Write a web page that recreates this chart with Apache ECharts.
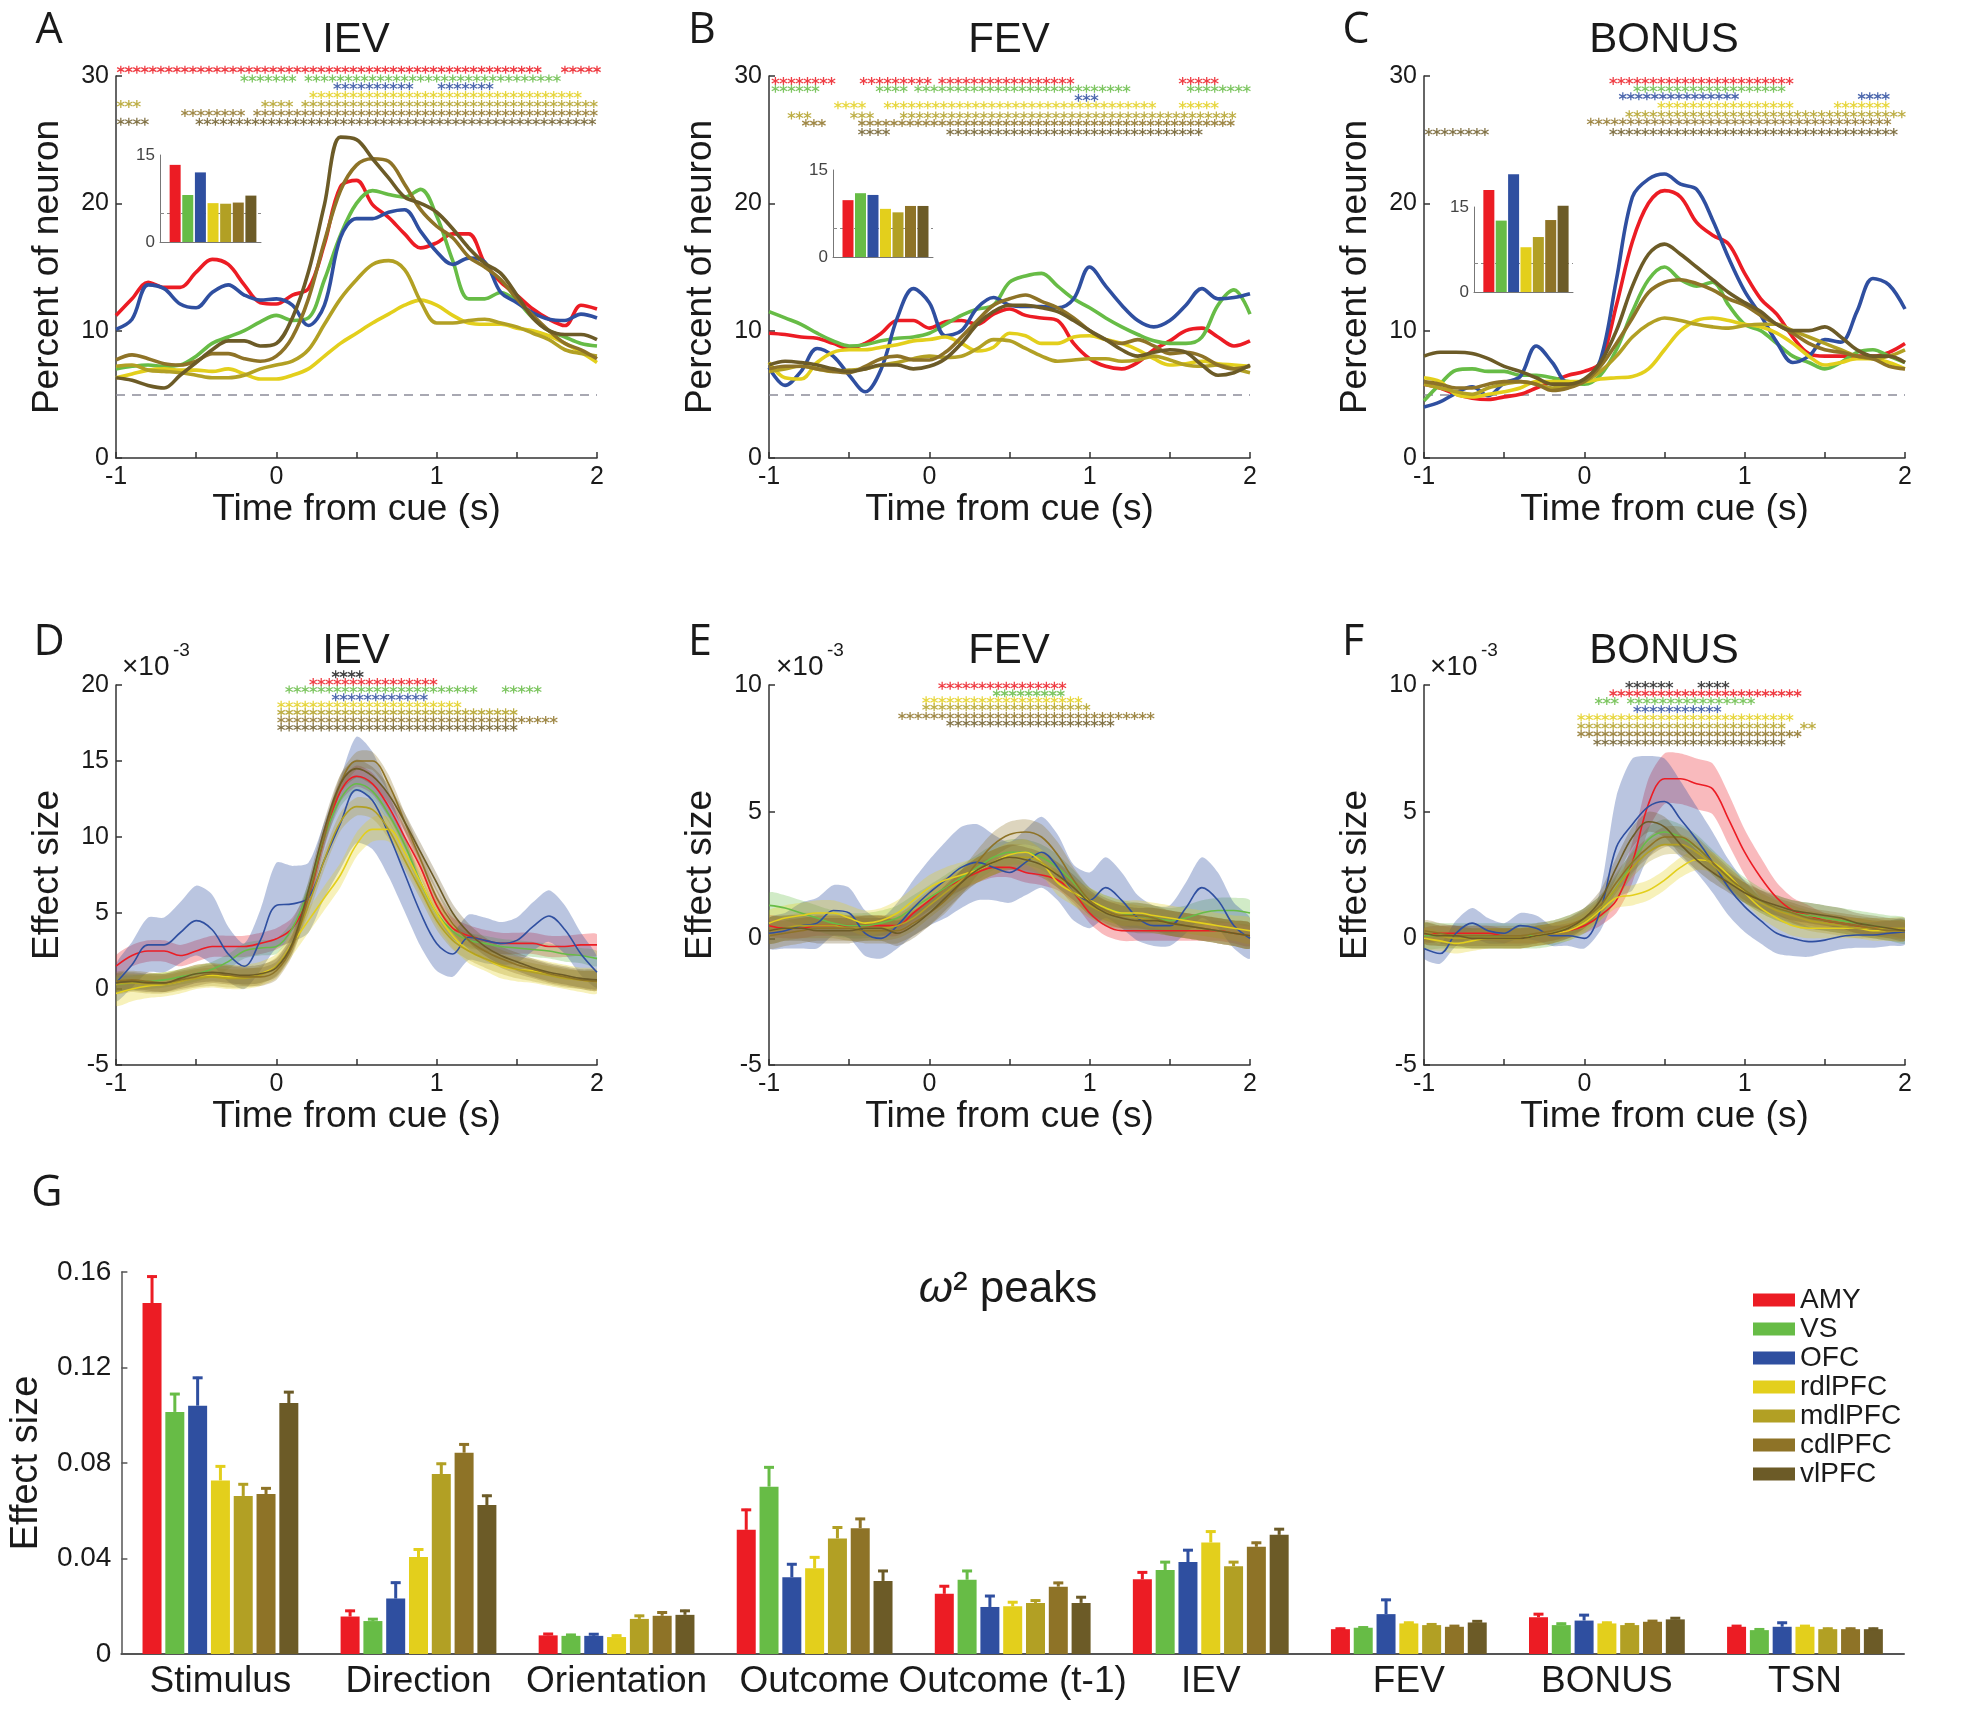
<!DOCTYPE html>
<html><head><meta charset="utf-8">
<script src="https://cdn.jsdelivr.net/npm/echarts/dist/echarts.min.js"></script>
<style>html,body{margin:0;padding:0;background:#fff}#c{width:1969px;height:1710px}</style>
</head><body><div id="c"></div>
<script>
// ---------------- DATA ----------------
const regions = ['AMY','VS','OFC','rdlPFC','mdlPFC','cdlPFC','vlPFC'];
const colors = ['#EC1C24','#67BC46','#2F4FA0','#E3CF1C','#B2A024','#8E7327','#6C5B27'];
const time = [-1,-0.9,-0.8,-0.7,-0.6,-0.5,-0.4,-0.3,-0.2,-0.1,0,0.1,0.2,0.3,0.4,0.5,0.6,0.7,0.8,0.9,1,1.1,1.2,1.3,1.4,1.5,1.6,1.7,1.8,1.9,2];

// Panel A: IEV, percent of neurons
const A_AMY = [11.2,12.5,13.8,13.4,13.4,14.6,15.6,15.2,13.6,12.2, 12.1,12.8,13.3,16.8,21.3,21.8,19.9,18.9,17.6,16.5, 16.9,17.6,17.6,15.3,13.8,12.8,11.7,10.9,10.4,12.0, 11.7];
const A_VS  = [7.0,7.2,7.3,7.2,7.3,8.0,9.0,9.5,10.0,10.7, 11.2,10.8,11.0,14.0,17.5,20.0,21.0,20.7,20.5,21.1, 19.0,15.5,12.5,12.5,13.0,12.3,11.0,10.0,9.5,9.0, 8.8];
const A_OFC = [10.1,10.9,13.6,13.3,12.1,11.8,13.0,13.6,12.8,12.4, 12.5,12.0,10.4,12.0,17.3,18.8,18.8,19.3,19.5,17.8, 16.2,15.2,15.7,15.4,13.0,12.2,11.4,10.9,10.8,11.3, 11.0];
const A_rdl = [6.3,6.6,6.9,7.0,6.9,6.9,6.8,7.0,6.6,6.2, 6.2,6.5,7.0,8.0,9.0,9.8,10.6,11.3,12.0,12.4, 12.0,11.2,10.6,10.5,10.5,10.2,10.0,9.6,9.0,8.3, 7.5];
const A_mdl = [7.2,7.3,6.9,6.8,6.7,6.5,6.3,6.3,6.5,7.0, 7.3,7.6,8.5,10.5,12.5,14.0,15.2,15.5,14.8,12.3, 10.6,10.6,10.8,10.9,10.6,10.3,9.8,9.3,8.5,8.2, 8.0];
const A_cdl = [7.7,8.1,7.8,7.4,7.3,7.6,8.2,8.2,7.8,7.6, 8.0,9.5,12.5,17.0,21.0,23.0,23.5,23.3,21.5,19.5, 18.2,17.3,15.8,15.0,14.0,12.5,11.2,10.0,9.0,8.5, 7.8];
const A_vl  = [6.3,6.1,5.7,5.5,6.5,7.5,8.5,9.2,9.2,8.8, 9.0,11.0,14.6,19.9,25.2,25.0,23.5,22.0,20.5,20.0, 19.3,18.0,16.5,15.3,14.5,12.8,11.0,10.0,9.7,9.7, 9.3];
// Panel B: FEV
const B_AMY = [9.8,9.7,9.5,9.4,9.0,8.6,9.0,9.8,10.8,10.8, 10.2,10.7,10.8,10.5,11.3,11.7,11.2,11.0,10.8,9.0, 7.8,7.2,7.0,7.5,8.5,9.2,10.0,10.2,9.5,8.8, 9.2];
const B_VS  = [11.5,11.0,10.5,9.8,9.2,8.8,8.9,9.2,9.4,9.5, 9.8,10.5,11.2,11.7,12.0,13.8,14.3,14.5,13.5,12.5, 11.8,11.0,10.3,9.7,9.2,9.0,9.0,9.5,12.0,13.2, 11.3];
const B_OFC = [7.1,5.7,6.8,8.6,8.0,6.5,5.2,7.0,11.0,13.3, 12.2,9.6,10.0,11.8,12.6,12.0,11.9,11.9,11.8,12.5, 15.0,13.5,12.0,10.8,10.3,10.8,12.0,13.3,12.5,12.6, 12.9];
const B_rdl = [7.5,6.3,6.2,7.5,8.3,8.5,8.5,8.7,8.9,9.2, 9.3,9.5,9.0,8.4,8.7,9.8,9.6,9.0,9.0,9.5, 9.6,9.3,9.0,8.5,7.8,7.3,7.4,7.6,7.4,7.3, 7.2];
const B_mdl = [6.8,7.0,7.2,7.0,6.8,6.9,7.0,7.3,7.5,7.8, 8.0,7.9,8.0,8.6,9.3,9.2,8.6,8.0,7.6,7.7, 7.8,7.8,7.6,7.7,8.0,7.7,7.3,7.2,7.3,7.0, 6.7];
const B_cdl = [7.0,7.2,7.2,7.0,6.8,6.7,7.2,7.8,8.0,7.7, 7.7,8.3,9.5,10.8,12.0,12.5,12.8,12.3,11.8,11.0, 10.0,9.3,9.0,9.3,8.8,8.2,8.3,8.0,7.3,7.0, 7.2];
const B_vl  = [7.3,7.6,7.5,7.3,7.0,6.8,7.0,7.3,7.3,7.0, 7.2,7.8,9.0,10.5,11.5,12.0,12.0,11.8,11.5,10.8, 10.0,9.3,8.5,8.0,8.3,8.5,8.3,7.3,6.5,6.7, 7.3];
// Panel C: BONUS
const C_AMY = [5.8,5.5,5.0,4.7,4.6,4.8,5.0,5.5,6.0,6.5, 6.8,7.5,12.0,17.0,20.0,21.0,20.5,18.5,17.5,16.8, 14.5,12.5,11.3,9.5,8.2,8.0,8.0,8.0,8.0,8.3, 9.0];
const C_VS  = [4.5,5.8,6.9,7.0,6.8,6.8,6.5,6.5,6.3,6.0, 5.8,6.5,8.5,11.5,14.0,15.0,14.0,13.5,13.8,12.0, 10.5,10.0,9.0,8.0,7.5,7.0,7.5,8.3,8.5,8.0, 7.5];
const C_OFC = [4.0,4.4,5.1,5.6,4.9,5.9,6.4,8.8,7.5,5.9, 6.1,7.7,14.0,20.5,21.9,22.3,21.5,21.1,18.7,15.7, 13.1,11.2,9.1,7.5,8.0,9.3,9.1,11.5,14.1,13.6, 11.7];
const C_rdl = [6.3,6.0,5.0,4.8,5.0,5.2,5.5,6.0,6.0,6.0, 6.0,6.2,6.3,6.4,7.0,8.5,10.0,10.8,11.0,10.8, 10.5,10.3,9.8,9.0,8.0,7.3,7.5,7.8,7.8,7.5, 7.0];
const C_mdl = [5.8,5.5,5.2,5.0,5.5,5.8,6.0,5.8,5.5,5.7, 6.0,6.8,8.0,9.5,10.5,11.0,10.8,10.5,10.3,10.2, 10.4,10.5,10.5,10.0,9.5,9.0,8.5,8.0,7.8,8.0, 8.5];
const C_cdl = [6.0,5.8,5.5,5.5,5.8,6.0,6.0,5.8,5.3,5.5, 6.0,7.2,9.0,11.0,13.0,13.8,14.0,13.7,13.2,12.5, 12.0,11.2,10.5,9.8,9.0,8.5,8.3,8.0,7.8,7.2, 7.0];
const C_vl  = [8.0,8.3,8.3,8.2,7.8,7.2,6.8,6.3,5.8,5.8, 6.2,7.5,10.0,13.5,16.0,16.8,16.0,15.0,14.0,13.0, 12.2,11.5,10.5,10.0,10.0,10.3,9.5,8.5,8.0,8.0, 7.5];

// Insets: percent of neurons per region
const insetA = [13.3, 8.1, 12.0, 6.7, 6.6, 6.8, 8.0];
const insetB = [9.8, 11.0, 10.7, 8.3, 7.7, 8.8, 8.8];
const insetC = [18.0, 12.6, 20.8, 7.9, 9.7, 12.7, 15.2];

// Panel D: IEV effect size (x1e-3)
const D_AMY = [1.5,2.2,2.5,2.5,2.2,2.5,2.8,2.8,2.8,3.0, 3.3,4.0,6.0,10.0,13.0,14.0,13.5,12.0,10.0,8.0, 5.5,4.0,3.5,3.2,3.0,3.0,3.0,2.8,2.8,2.9, 2.9];
const D_VS  = [0.3,0.4,0.5,0.6,0.8,1.0,1.3,1.8,2.5,2.7, 2.8,4.0,6.5,10.0,12.5,13.5,13.0,11.5,9.5,7.0, 5.0,3.8,3.2,3.0,2.8,2.7,2.6,2.5,2.3,2.2, 2.0];
const D_OFC = [0.4,1.6,2.9,2.9,3.7,4.5,3.9,2.3,1.5,3.2, 5.5,5.6,6.0,8.5,10.9,13.1,12.4,10.2,7.6,5.0, 3.0,2.3,3.4,3.2,3.0,3.2,4.1,4.8,3.9,2.3, 1.1];
const D_rdl = [-0.3,0.0,0.2,0.3,0.5,0.8,0.9,0.8,0.8,1.0, 1.5,3.0,4.5,6.0,7.5,9.5,10.5,10.5,9.0,7.0, 5.0,3.5,2.5,2.0,1.5,1.3,1.2,1.0,0.8,0.6, 0.5];
const D_mdl = [0.3,0.4,0.3,0.3,0.5,0.7,0.8,0.7,0.7,0.9, 1.5,3.0,5.5,8.5,11.0,12.0,11.8,10.5,8.5,6.5, 4.5,3.2,2.5,2.0,1.6,1.3,1.1,0.9,0.7,0.6, 0.5];
const D_cdl = [0.5,0.6,0.5,0.4,0.6,0.8,1.0,0.9,0.8,0.8, 1.2,2.8,6.0,10.0,13.5,15.0,15.0,13.5,11.0,8.5, 6.0,4.3,3.2,2.5,2.0,1.6,1.3,1.0,0.8,0.6, 0.5];
const D_vl  = [0.4,0.5,0.4,0.4,0.7,1.0,1.1,1.0,0.9,1.0, 1.4,3.0,6.5,10.5,13.5,14.5,14.0,12.8,11.0,9.0, 7.0,5.0,3.7,2.8,2.2,1.8,1.4,1.1,0.9,0.7, 0.6];
const D_OFC_sem = [1.2,1.5,1.8,1.8,2.0,2.3,2.3,1.8,1.5,2.0, 2.8,2.5,2.3,2.5,3.0,3.5,3.2,2.8,2.5,2.2, 1.8,1.5,1.5,1.5,1.4,1.5,1.6,1.7,1.6,1.4, 1.0];
const D_sem = [0.7, 0.5, D_OFC_sem, 0.8, 0.6, 0.6, 0.6];
// Panel E: FEV effect size
const E_AMY = [0.5,0.4,0.4,0.5,0.5,0.5,0.5,0.5,0.5,1.0, 1.5,2.0,2.3,2.6,2.8,2.8,2.6,2.5,2.3,1.8, 1.0,0.5,0.3,0.3,0.3,0.3,0.3,0.3,0.3,0.2, 0.1];
const E_VS  = [1.3,1.2,1.0,0.8,0.6,0.5,0.5,0.6,0.8,1.2, 1.6,2.0,2.4,2.8,3.2,3.4,3.4,3.2,2.8,2.2, 1.5,1.2,1.0,0.9,0.8,0.7,0.8,1.0,1.1,1.1, 1.0];
const E_OFC = [0.2,0.3,0.5,0.6,1.1,1.0,0.2,0.0,0.5,1.2, 1.8,2.3,2.8,3.0,2.8,2.6,3.0,3.4,2.8,1.8, 1.5,2.0,1.5,0.8,0.5,0.5,1.2,2.0,1.5,0.5, 0.0];
const E_rdl = [0.6,0.8,0.9,1.0,1.0,0.8,0.6,0.7,1.0,1.5, 2.0,2.3,2.5,2.7,3.0,3.3,3.4,3.0,2.2,1.8, 1.5,1.2,1.0,1.0,0.9,0.8,0.7,0.6,0.5,0.4, 0.3];
const E_mdl = [0.3,0.4,0.5,0.5,0.5,0.4,0.4,0.4,0.5,0.8, 1.3,1.8,2.3,2.7,3.0,3.2,3.2,3.0,2.5,1.8, 1.3,1.0,0.9,0.8,0.7,0.6,0.5,0.4,0.3,0.2, 0.1];
const E_cdl = [0.1,0.2,0.3,0.4,0.4,0.4,0.3,0.3,0.3,0.6, 1.0,1.5,2.2,3.0,3.7,4.1,4.2,4.0,3.3,2.3, 1.5,1.1,0.9,0.9,0.8,0.6,0.5,0.4,0.3,0.2, 0.1];
const E_vl  = [0.3,0.4,0.4,0.3,0.3,0.3,0.4,0.4,0.2,0.5, 1.0,1.6,2.2,2.7,3.0,3.2,3.1,2.9,2.5,2.0, 1.4,1.0,0.8,0.7,0.7,0.6,0.5,0.4,0.3,0.2, 0.1];
const E_OFC_sem = [0.6,0.7,0.9,1.0,1.0,1.0,0.9,0.8,0.9,1.1, 1.3,1.5,1.6,1.5,1.3,1.2,1.3,1.4,1.3,1.1, 1.1,1.2,1.1,0.9,0.8,0.8,1.0,1.2,1.1,0.9, 0.8];
const E_sem = [0.4, 0.5, E_OFC_sem, 0.5, 0.5, 0.5, 0.5];
// Panel F: BONUS effect size
const F_AMY = [0.1,0.2,0.2,0.2,0.2,0.1,0.1,0.1,0.2,0.3, 0.5,0.9,1.5,3.0,5.3,6.3,6.3,6.1,5.9,4.7, 3.4,2.4,1.6,1.1,0.9,0.7,0.6,0.5,0.4,0.4, 0.3];
const F_VS  = [0.1,0.1,0.1,0.1,0.1,0.1,0.1,0.1,0.2,0.4, 0.7,1.2,2.0,3.0,3.9,4.2,4.0,3.6,3.0,2.4, 1.9,1.5,1.2,1.0,0.9,0.8,0.7,0.6,0.5,0.4, 0.3];
const F_OFC = [-0.4,-0.6,0.2,0.6,0.3,0.2,0.5,0.4,0.1,0.1, 0.0,1.1,3.6,4.5,5.2,5.4,4.7,3.9,3.0,2.0, 1.25,0.7,0.2,0.0,-0.13,-0.07,0.07,0.13,0.13,0.2, 0.26];
const F_rdl = [0.0,-0.1,-0.2,-0.1,0.0,0.0,0.0,0.1,0.2,0.3, 0.6,1.1,1.6,1.7,1.9,2.3,2.8,3.1,3.0,2.5, 1.8,1.2,0.8,0.5,0.4,0.4,0.4,0.4,0.3,0.3, 0.3];
const F_mdl = [0.2,0.1,0.0,0.0,0.0,0.0,0.0,0.1,0.2,0.4, 0.7,1.2,2.0,2.8,3.4,3.7,3.7,3.4,2.9,2.3, 1.8,1.4,1.1,0.9,0.7,0.6,0.5,0.4,0.4,0.4, 0.4];
const F_cdl = [0.3,0.2,0.1,0.1,0.1,0.1,0.1,0.2,0.3,0.5, 0.8,1.3,2.2,3.0,3.6,4.0,4.0,3.6,3.0,2.4, 1.9,1.5,1.2,1.0,0.8,0.7,0.6,0.5,0.4,0.3, 0.3];
const F_vl  = [0.2,0.1,0.1,0.0,0.0,0.0,0.0,0.1,0.2,0.4, 0.8,1.5,2.8,4.0,4.6,4.4,3.7,3.1,2.6,2.2, 1.8,1.5,1.3,1.1,1.0,0.9,0.8,0.6,0.5,0.4, 0.3];
const F_OFC_sem = [0.4,0.4,0.5,0.6,0.5,0.4,0.5,0.5,0.4,0.4, 0.4,0.8,2.0,2.6,2.0,1.7,1.5,1.3,1.2,1.1, 1.0,0.9,0.8,0.7,0.6,0.5,0.5,0.5,0.5,0.5, 0.5];
const F_AMY_sem = [0.3,0.3,0.3,0.3,0.3,0.3,0.3,0.3,0.3,0.3, 0.3,0.4,0.5,0.8,1.0,1.0,1.0,1.0,1.0,1.0, 0.9,0.8,0.6,0.5,0.4,0.3,0.3,0.3,0.3,0.3, 0.3];
const F_sem = [F_AMY_sem, 0.5, F_OFC_sem, 0.4, 0.4, 0.4, 0.4];

// Significance stars: intervals (s) per row; index 0 = black (difference) row, then regions
const STAR_STEP = 0.05;
const starsA = [[], [[-0.97,1.65],[1.8,2.0]], [[-0.2,0.1],[0.2,1.75]], [[0.38,0.87],[1.03,1.36]], [[0.23,1.91]], [[-0.97,-0.83],[-0.07,0.12],[0.18,2.0]], [[-0.57,-0.18],[-0.12,2.0]], [[-0.97,-0.78],[-0.48,2.0]]];
const starsB = [[], [[-0.96,-0.58],[-0.41,0.02],[0.08,0.92],[1.58,1.82]], [[-0.96,-0.68],[-0.31,-0.13],[-0.07,1.26],[1.63,2.0]], [[0.93,1.07]], [[-0.57,-0.39],[-0.26,1.41],[1.58,1.82]], [[-0.86,-0.73],[-0.47,-0.34],[-0.16,1.91]], [[-0.77,-0.63],[-0.42,1.88]], [[-0.42,-0.24],[0.13,1.7]]];
const starsC = [[], [[0.18,1.31]], [[0.33,1.26]], [[0.24,0.95],[1.73,1.91]], [[0.48,1.31],[1.58,1.91]], [[0.28,2.0]], [[0.04,1.91]], [[-0.97,-0.59],[0.18,1.97]]];
const starsD = [[[0.37,0.52]], [[0.23,0.98]], [[0.08,1.27],[1.43,1.67]], [[0.37,0.92]], [[0.03,1.17]], [[0.03,1.52]], [[0.03,1.77]], [[0.03,1.52]]];
const starsE = [[], [[0.08,0.87]], [[0.42,0.82]], [], [[-0.02,0.97]], [[-0.02,1.01]], [[-0.17,1.42]], [[0.13,1.17]]];
const starsF = [[[0.28,0.57],[0.73,0.91]], [[0.18,1.37]], [[0.09,0.21],[0.29,1.06]], [[0.33,0.86]], [[-0.02,1.31]], [[-0.02,1.26],[1.37,1.46]], [[-0.02,1.37]], [[0.08,1.26]]];
const starRowA = [31.1, 30.5, 29.8, 29.2, 28.5, 27.8, 27.1, 26.4];
const starRowB = [30.2, 29.6, 29.0, 28.3, 27.7, 26.9, 26.3, 25.6];
const starRowC = [30.2, 29.6, 29.0, 28.4, 27.7, 27.0, 26.4, 25.6];
const starRowD = [20.7, 20.2, 19.7, 19.2, 18.7, 18.2, 17.7, 17.2];
const starRowE = [10.3, 9.97, 9.67, 9.67, 9.4, 9.12, 8.78, 8.49];
const starRowF = [10.0, 9.67, 9.37, 9.04, 8.72, 8.38, 8.07, 7.74];

// Panel G: omega^2 peaks
const gCats = ['Stimulus','Direction','Orientation','Outcome','Outcome (t-1)','IEV','FEV','BONUS','TSN'];
const G_AMY = [0.147, 0.0157, 0.0078, 0.052, 0.0252, 0.0313, 0.0104, 0.0154, 0.0114];
const G_VS  = [0.1014, 0.0138, 0.0076, 0.0701, 0.0311, 0.0352, 0.011, 0.0121, 0.010];
const G_OFC = [0.104, 0.0232, 0.0076, 0.0321, 0.0197, 0.0385, 0.0167, 0.014, 0.0114];
const G_rdl = [0.0727, 0.0406, 0.0071, 0.0359, 0.020, 0.0467, 0.0128, 0.0128, 0.0114];
const G_mdl = [0.0662, 0.0754, 0.0147, 0.0484, 0.0214, 0.0368, 0.0121, 0.0121, 0.0104];
const G_cdl = [0.067, 0.0843, 0.016, 0.0527, 0.0282, 0.0449, 0.0114, 0.0135, 0.0104];
const G_vl  = [0.1051, 0.0624, 0.0164, 0.0306, 0.0214, 0.0499, 0.0132, 0.0145, 0.0104];
const G_AMY_err = [0.0115, 0.0028, 0.001, 0.0088, 0.0036, 0.0033, 0.0006, 0.0017, 0.0007];
const G_VS_err  = [0.0079, 0.0012, 0.0008, 0.0085, 0.0041, 0.0037, 0.0005, 0.001, 0.0007];
const G_OFC_err = [0.0121, 0.0071, 0.0011, 0.0059, 0.005, 0.0054, 0.0064, 0.0027, 0.0021];
const G_rdl_err = [0.0063, 0.0036, 0.001, 0.005, 0.0021, 0.005, 0.0007, 0.0007, 0.0007];
const G_mdl_err = [0.0053, 0.0047, 0.0017, 0.005, 0.0014, 0.0021, 0.0007, 0.0007, 0.0006];
const G_cdl_err = [0.0028, 0.0039, 0.0018, 0.0043, 0.002, 0.0021, 0.0007, 0.0007, 0.0006];
const G_vl_err  = [0.005, 0.0043, 0.0021, 0.0046, 0.0028, 0.0028, 0.0009, 0.0009, 0.0006];

// ---------------- BUILD ----------------
const FONT = '"Liberation Sans", Arial, Helvetica, sans-serif';
const TXT = '#1a1a1a';
const A_lines = [A_AMY,A_VS,A_OFC,A_rdl,A_mdl,A_cdl,A_vl];
const B_lines = [B_AMY,B_VS,B_OFC,B_rdl,B_mdl,B_cdl,B_vl];
const C_lines = [C_AMY,C_VS,C_OFC,C_rdl,C_mdl,C_cdl,C_vl];
const D_lines = [D_AMY,D_VS,D_OFC,D_rdl,D_mdl,D_cdl,D_vl];
const E_lines = [E_AMY,E_VS,E_OFC,E_rdl,E_mdl,E_cdl,E_vl];
const F_lines = [F_AMY,F_VS,F_OFC,F_rdl,F_mdl,F_cdl,F_vl];
const G_vals = [G_AMY,G_VS,G_OFC,G_rdl,G_mdl,G_cdl,G_vl];
const G_errs = [G_AMY_err,G_VS_err,G_OFC_err,G_rdl_err,G_mdl_err,G_cdl_err,G_vl_err];

function pairs(arr){ return time.map((t,i)=>[t, arr[i]]); }
function semAt(s,i){ return Array.isArray(s) ? s[i] : s; }
function rgba(hex,a){ const n=parseInt(hex.slice(1),16); return 'rgba('+((n>>16)&255)+','+((n>>8)&255)+','+(n&255)+','+a+')'; }
function starPts(ranges,y){ const p=[]; ranges.forEach(([s,e])=>{ for(let t=s;t<=e+1e-6;t+=STAR_STEP) p.push([+t.toFixed(3),y]); }); return p; }
const STAR = 'path://M-1.5,-10L1.5,-10L1.5,10L-1.5,10ZM7.91,-6.3L9.41,-3.7L-7.91,6.3L-9.41,3.7ZM9.41,3.7L7.91,6.3L-9.41,-3.7L-7.91,-6.3Z';

const grid = [
  {left:116, top:76, width:481, height:382},
  {left:769, top:76, width:481, height:382},
  {left:1424, top:76, width:481, height:382},
  {left:160, top:155, width:101, height:87},
  {left:833, top:170, width:100, height:87},
  {left:1474, top:207, width:99, height:85},
  {left:116, top:685, width:481, height:380},
  {left:769, top:685, width:481, height:380},
  {left:1424, top:685, width:481, height:380},
  {left:115, top:1272, width:1789, height:382}
];

const axLine = {show:true, onZero:false, lineStyle:{color:'#333', width:1.5}};
const axTick = {show:true, inside:true, length:6, lineStyle:{color:'#333', width:1.5}};
function timeX(gi){ return {gridIndex:gi, type:'value', min:-1, max:2, interval:0.5,
  name:'Time from cue (s)', nameLocation:'middle', nameGap:33, nameTextStyle:{fontSize:37, color:TXT, fontFamily:FONT},
  axisLine:axLine, axisTick:axTick, splitLine:{show:false},
  axisLabel:{fontSize:25, color:TXT, fontFamily:FONT, margin:7, formatter:v=>Math.abs(v-Math.round(v))<1e-6?String(Math.round(v)):''}}; }
function valY(gi,min,max,itv,name){ return {gridIndex:gi, type:'value', min, max, interval:itv,
  name, nameLocation:'middle', nameGap:50, nameTextStyle:{fontSize:37, color:TXT, fontFamily:FONT},
  axisLine:axLine, axisTick:axTick, splitLine:{show:false},
  axisLabel:{fontSize:25, color:TXT, fontFamily:FONT, margin:7}}; }
function insetX(gi){ return {gridIndex:gi, type:'value', min:-0.2, max:7.8, axisLine:{show:true,onZero:false,lineStyle:{color:'#777',width:1}}, axisTick:{show:false}, axisLabel:{show:false}, splitLine:{show:false}}; }
function insetY(gi){ return {gridIndex:gi, type:'value', min:0, max:15, interval:15, axisLine:{show:true,onZero:false,lineStyle:{color:'#777',width:1}}, axisTick:{show:false}, axisLabel:{fontSize:17,color:'#444',fontFamily:FONT,margin:5}, splitLine:{show:false}}; }

const xAxis = [timeX(0),timeX(1),timeX(2),insetX(3),insetX(4),insetX(5),timeX(6),timeX(7),timeX(8),
  {gridIndex:9, type:'category', data:gCats, axisLine:{show:true,onZero:false,lineStyle:{color:'#555',width:2}},
   axisTick:{show:true,inside:true,alignWithLabel:true,length:5,lineStyle:{color:'#555',width:1.5}},
   axisLabel:{interval:0, fontSize:37, color:TXT, fontFamily:FONT, margin:9}, splitLine:{show:false}}];
const yAxis = [valY(0,0,30,10,'Percent of neuron'),valY(1,0,30,10,'Percent of neuron'),valY(2,0,30,10,'Percent of neuron'),
  insetY(3),insetY(4),insetY(5),
  valY(6,-5,20,5,'Effect size'),valY(7,-5,10,5,'Effect size'),valY(8,-5,10,5,'Effect size'),
  {gridIndex:9, type:'value', min:0, max:0.16, interval:0.04, name:'Effect size', nameLocation:'middle', nameGap:66,
   nameTextStyle:{fontSize:38,color:TXT,fontFamily:FONT}, axisLine:{show:true,onZero:false,lineStyle:{color:'#555',width:1.5}},
   axisTick:{show:true,inside:true,length:6,lineStyle:{color:'#555',width:1.5}}, splitLine:{show:false},
   axisLabel:{fontSize:28,color:TXT,fontFamily:FONT,margin:10,formatter:v=>v===0?'0':v.toFixed(2)}}];

const series = [];
// top panels: lines + dashed chance level
[[A_lines,0],[B_lines,1],[C_lines,2]].forEach(([lines,gi])=>{
  lines.forEach((arr,k)=>{
    const s = {type:'line', name:'L'+gi+'-'+regions[k], xAxisIndex:gi, yAxisIndex:gi, data:pairs(arr), smooth:0.35,
      symbol:'none', silent:true, z:3, lineStyle:{color:colors[k], width:3.6}};
    if(k===0) s.markLine = {silent:true, symbol:'none', label:{show:false}, lineStyle:{color:'#8c8c99', type:[9,7], width:1.6}, data:[{yAxis:5}], z:2};
    series.push(s);
  });
});
// insets
[[insetA,3],[insetB,4],[insetC,5]].forEach(([vals,gi])=>{
  series.push({type:'bar', name:'I'+gi, xAxisIndex:gi, yAxisIndex:gi, barWidth:11, clip:false, silent:true, z:5,
    data:vals.map((v,i)=>({value:[i+1,v], itemStyle:{color:colors[i]}})),
    markLine:{silent:true, symbol:'none', label:{show:false}, lineStyle:{color:'#888', type:[4,3], width:1}, data:[{yAxis:5}]}});
});
// middle panels: SEM bands (custom polygons) + mean lines
function bandSeries(gi, arr, sem, color, alpha){
  const up = time.map((t,i)=>[t, arr[i]+semAt(sem,i)]);
  const lo = time.map((t,i)=>[t, arr[i]-semAt(sem,i)]);
  return {type:'custom', name:'band'+gi, xAxisIndex:gi, yAxisIndex:gi, silent:true, z:2, clip:true,
    data: time.map((t,i)=>[t, lo[i][1], up[i][1]]), encode:{x:0, y:[1,2]},
    renderItem:(params, api)=>{
      if(params.dataIndex!==0) return null;
      const pts = up.map(p=>api.coord(p)).concat(lo.slice().reverse().map(p=>api.coord(p)));
      return {type:'polygon', shape:{points:pts, smooth:0.25}, style:{fill:rgba(color,alpha), stroke:null}};
    }};
}
[[D_lines,D_sem,6],[E_lines,E_sem,7],[F_lines,F_sem,8]].forEach(([lines,sems,gi])=>{
  lines.forEach((arr,k)=>series.push(bandSeries(gi, arr, sems[k], colors[k], k===2?0.33:0.3)));
  lines.forEach((arr,k)=>{
    series.push({type:'line', name:'M'+gi+'-'+regions[k], xAxisIndex:gi, yAxisIndex:gi, data:pairs(arr), smooth:0.35,
      symbol:'none', silent:true, z:3, lineStyle:{color:colors[k], width:1.6}});
  });
});
// stars
[[starsA,starRowA,0],[starsB,starRowB,1],[starsC,starRowC,2],[starsD,starRowD,6],[starsE,starRowE,7],[starsF,starRowF,8]].forEach(([rows,ys,gi])=>{
  rows.forEach((ranges,r)=>{
    if(!ranges.length) return;
    series.push({type:'scatter', name:'st'+gi+'-'+r, xAxisIndex:gi, yAxisIndex:gi, clip:false, silent:true, z:6,
      symbol:STAR, symbolSize:8, itemStyle:{color: r===0 ? '#222' : colors[r-1], opacity:0.85},
      data:starPts(ranges, ys[r])});
  });
});
// G bars + error bars
const BAR_W = 19, BAR_STEP = 19*1.2;
G_vals.forEach((vals,k)=>{
  series.push({type:'bar', name:regions[k], xAxisIndex:9, yAxisIndex:9, barWidth:BAR_W, barGap:'20%', silent:true,
    itemStyle:{color:colors[k]}, data:vals});
});
G_vals.forEach((vals,k)=>{
  series.push({type:'custom', name:'err-'+regions[k], xAxisIndex:9, yAxisIndex:9, silent:true, z:4,
    encode:{x:0, y:[1,2]},
    data:vals.map((v,i)=>[i, v, v+G_errs[k][i]]),
    renderItem:(params, api)=>{
      const p0 = api.coord([api.value(0), api.value(1)]);
      const p1 = api.coord([api.value(0), api.value(2)]);
      const x = p0[0] + (k-3)*BAR_STEP;
      const st = {stroke:colors[k], lineWidth:3};
      return {type:'group', children:[
        {type:'line', shape:{x1:x,y1:p0[1],x2:x,y2:p1[1]}, style:st},
        {type:'line', shape:{x1:x-5,y1:p1[1]+1,x2:x+5,y2:p1[1]+1}, style:st}
      ]};
    }});
});

function txt(x,y,s,size,extra){ return {type:'text', x, y, silent:true, style:Object.assign({text:s, fill:TXT, font:size+'px '+FONT, align:'center', verticalAlign:'middle'}, extra||{})}; }
const LF = '43px "Open Sans", "Noto Sans", sans-serif';
const graphic = [
  txt(49,31,'A',43,{font:LF}), txt(702,31,'B',43,{font:LF}), txt(1356,31,'C',43,{font:LF}),
  txt(49,643,'D',43,{font:LF}), txt(700,643,'E',43,{font:LF}), txt(1353,643,'F',43,{font:LF}),
  txt(47,1194,'G',43,{font:LF}),
  txt(356,40,'IEV',42), txt(1009,40,'FEV',42), txt(1664,40,'BONUS',42),
  txt(356,651,'IEV',42), txt(1009,651,'FEV',42), txt(1664,651,'BONUS',42),
  txt(122,667,'×10',28,{align:'left'}), txt(173,651,'-3',19,{align:'left'}),
  txt(776,667,'×10',28,{align:'left'}), txt(827,651,'-3',19,{align:'left'}),
  txt(1430,667,'×10',28,{align:'left'}), txt(1481,651,'-3',19,{align:'left'}),
  {type:'text', x:1008, y:1290, silent:true, style:{text:'{w|ω}² peaks', font:'44px '+FONT, fill:TXT, align:'center', verticalAlign:'middle',
    rich:{w:{fontStyle:'italic', fontSize:44, fontFamily:FONT, fill:TXT}}}}
];

const chart = echarts.init(document.getElementById('c'), null, {renderer:'canvas'});
chart.setOption({
  animation:false, backgroundColor:'#fff', textStyle:{fontFamily:FONT},
  grid, xAxis, yAxis, series, graphic,
  legend:{data:regions, orient:'vertical', left:1748, top:1281, itemWidth:42, itemHeight:13, itemGap:1, icon:'rect', selectedMode:false,
    textStyle:{fontSize:28, lineHeight:27, color:TXT, fontFamily:FONT, padding:0}}
});
</script>
</body></html>
